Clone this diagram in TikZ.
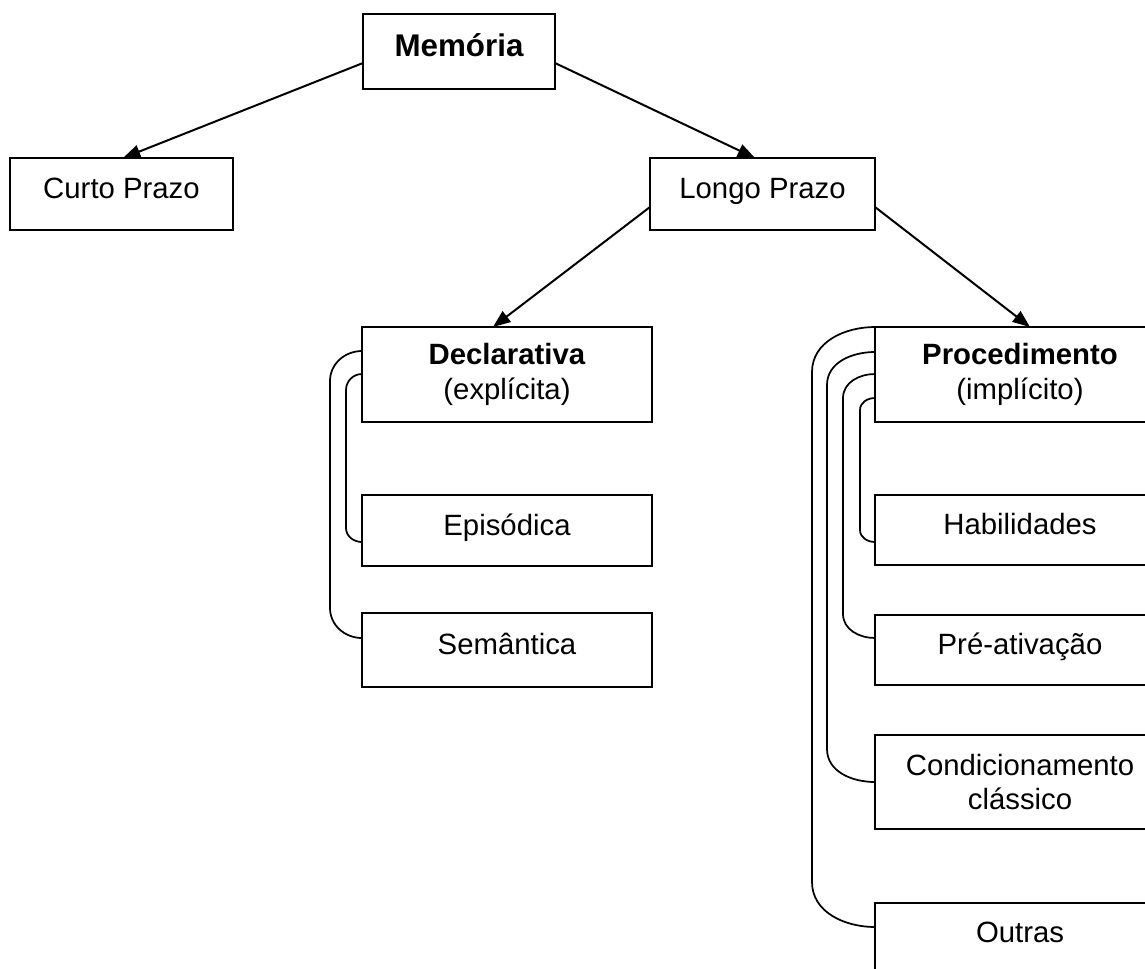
\documentclass[tikz,border=0pt]{standalone}
\usepackage{fontspec}
\setmainfont{Liberation Sans}
\usetikzlibrary{arrows.meta}
\begin{document}
\begin{tikzpicture}[x=0.75pt,y=-0.75pt,
  box/.style={draw,line width=1.3pt,inner sep=0pt,outer sep=0pt,align=center,
    font=\fontsize{22}{26}\selectfont},
  one/.style={text height=16.5pt,text depth=9.7pt},
  arr/.style={line width=1.5pt,-{Triangle[length=13pt,width=10pt]}},
  brk/.style={line width=1.3pt}]
\useasboundingbox (0,0) rectangle (1145,968);
\clip (0,0) rectangle (1145,968);

\node[box,one,minimum width=144pt,minimum height=56.25pt,font=\fontsize{23.5}{28}\selectfont\bfseries,text depth=9pt] (mem) at (459,51.5) {Memória};
\node[box,one,minimum width=167.25pt,minimum height=54pt] (cp) at (121.5,194) {Curto Prazo};
\node[box,one,minimum width=168.75pt,minimum height=54pt] (lp) at (762.5,194) {Longo Prazo};

\node[box,minimum width=217.5pt,minimum height=71.25pt] (dec) at (507,374.5) {\textbf{Declarativa}\\(explícita)};
\node[box,one,minimum width=217.5pt,minimum height=53.25pt] (epi) at (507,530.5) {Episódica};
\node[box,one,minimum width=217.5pt,minimum height=55.5pt] (sem) at (507,650) {Semântica};

\node[box,minimum width=217.5pt,minimum height=71.25pt] (proc) at (1020,374.5) {\textbf{Procedimento}\\(implícito)};
\node[box,one,minimum width=217.5pt,minimum height=52.5pt] (hab) at (1020,530) {Habilidades};
\node[box,one,minimum width=217.5pt,minimum height=52.5pt] (pre) at (1020,650) {Pré-ativação};
\node[box,minimum width=217.5pt,minimum height=70.5pt] (cond) at (1020,782) {Condicionamento\\clássico};
\node[box,one,minimum width=217.5pt,minimum height=52.5pt] (out) at (1020,938) {Outras};

% arrows
\draw[arr] (mem.west |- 0,63) -- (cp.north -| 123,0);
\draw[arr] (mem.east |- 0,63) -- (lp.north -| 755,0);
\draw[arr] (lp.west |- 0,207) -- (dec.north -| 493,0);
\draw[arr] (lp.east |- 0,207) -- (proc.north -| 1030,0);

% brackets, Declarativa
\draw[brk] (dec.west |- 0,351) to[out=180,in=90] (330,381) -- (330,608) to[out=-90,in=180] (sem.west |- 0,638);
\draw[brk] (dec.west |- 0,374) to[out=180,in=90] (346,390) -- (346,528) to[out=-90,in=180] (epi.west |- 0,542);

% brackets, Procedimento
\draw[brk] (proc.north west) to[out=180,in=90] (812,372) -- (812,882) to[out=-90,in=180] (out.west |- 0,927);
\draw[brk] (proc.west |- 0,352) to[out=180,in=90] (827,385) -- (827,749) to[out=-90,in=180] (cond.west |- 0,782);
\draw[brk] (proc.west |- 0,374) to[out=180,in=90] (843,398) -- (843,614) to[out=-90,in=180] (pre.west |- 0,638);
\draw[brk] (proc.west |- 0,398) to[out=180,in=90] (860,410) -- (860,530) to[out=-90,in=180] (hab.west |- 0,542);
\end{tikzpicture}
\end{document}
